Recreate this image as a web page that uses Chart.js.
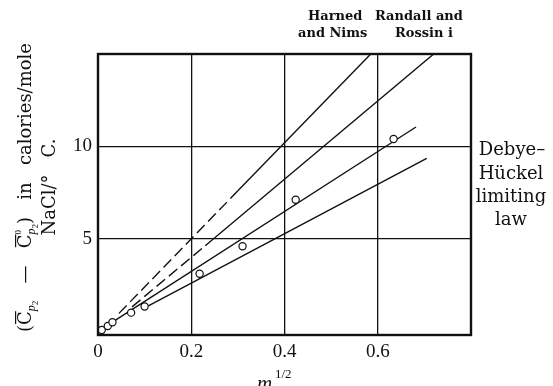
<!DOCTYPE html>
<html>
<head>
<meta charset="utf-8">
<script src="https://cdn.jsdelivr.net/npm/chart.js@4/dist/chart.umd.min.js"></script>
<style>
  html, body { margin: 0; padding: 0; background: #fff; }
  #wrap { width: 553px; height: 386px; position: relative; }
</style>
</head>
<body>
<div id="wrap"><canvas id="chart" width="553" height="386"></canvas></div>
<script>
// tick labels
const xTicks = [0, 0.2, 0.4, 0.6];
const yTicks = [5, 10];

// measured points (open circles)
const pointsX = [0.008, 0.021, 0.031, 0.071, 0.100, 0.218, 0.310, 0.424, 0.634];
const pointsY = [0.07, 0.29, 0.49, 1.01, 1.34, 3.11, 4.60, 7.12, 10.40];

// straight lines: first segment of the two upper ones is dashed
const harnedX = [0.045, 0.30, 0.585];
const harnedY = [0.97, 7.60, 15.0];
const randallX = [0.073, 0.23, 0.72];
const randallY = [1.32, 4.63, 15.0];
const fitX = [0.0, 0.682];
const fitY = [0.0, 11.05];
const dhllX = [0.108, 0.705];
const dhllY = [1.37, 9.35];

const SERIF = '"Liberation Serif", "DejaVu Serif", serif';
const WIDE = '"DejaVu Serif", serif';

function pairs(xs, ys) {
  return xs.map((x, i) => ({ x: x, y: ys[i] }));
}

function lineSet(xs, ys, dashFirst) {
  return {
    type: 'line',
    data: pairs(xs, ys),
    borderColor: '#111',
    borderWidth: 1.4,
    pointRadius: 0,
    fill: false,
    segment: dashFirst ? {
      borderDash: ctx => ctx.p0DataIndex === 0 ? [11, 5] : undefined,
    } : {},
  };
}

// text runs with sub/superscripts
function richWidth(ctx, parts) {
  let w = 0;
  parts.forEach(p => {
    ctx.font = p.font;
    if (!p.stack) w += ctx.measureText(p.t).width;
  });
  return w;
}

function drawRich(ctx, parts, x, y) {
  let cx = x;
  parts.forEach(p => {
    ctx.font = p.font;
    const pw = ctx.measureText(p.t).width;
    ctx.fillText(p.t, cx, y + (p.dy || 0));
    if (p.bar) ctx.fillRect(cx + 1, y - 16, pw - 1, 1.2);
    if (!p.stack) cx += pw;
  });
}

const annotations = {
  id: 'annotations',
  afterDraw(chart) {
    const ctx = chart.ctx;
    const a = chart.chartArea;
    ctx.save();
    // frame
    ctx.strokeStyle = '#111';
    ctx.lineWidth = 2.4;
    ctx.strokeRect(a.left, a.top, a.right - a.left, a.bottom - a.top);

    ctx.fillStyle = '#111';
    ctx.textBaseline = 'alphabetic';

    // top labels
    ctx.font = 'bold 13px ' + WIDE;
    ctx.textAlign = 'left';
    ctx.fillText('Harned', 308, 20);
    ctx.fillText('Randall and', 375, 20);
    ctx.fillText('and Nims', 298, 37);
    ctx.fillText('Rossin i', 395, 37);

    // right labels
    ctx.font = '18px ' + WIDE;
    ctx.textAlign = 'center';
    ctx.fillText('Debye\u2013', 512, 155);
    ctx.fillText('H\u00fcckel', 511, 179);
    ctx.fillText('limiting', 511, 202);
    ctx.fillText('law', 511, 225);

    // x axis title
    ctx.textAlign = 'left';
    ctx.font = 'italic 21px ' + SERIF;
    ctx.fillText('m', 257, 390);
    ctx.font = '13px ' + SERIF;
    ctx.fillText('1/2', 275, 378);

    // y axis title, rotated
    ctx.rotate(-Math.PI / 2);
    const big = '18px ' + WIDE;
    const sub = 'italic 12px ' + SERIF;
    const sub2 = '9px ' + SERIF;
    const groups = [
      [{ t: '(', font: big }, { t: 'C', font: big, bar: true }, { t: 'p', font: sub, dy: 4 }, { t: '2', font: sub2, dy: 7 }],
      [{ t: '\u2014', font: big }],
      [{ t: 'C', font: big, bar: true }, { t: '0', font: sub2, dy: -10, stack: true }, { t: 'p', font: sub, dy: 4 }, { t: '2', font: sub2, dy: 7 }, { t: ')', font: big }],
      [{ t: 'in', font: big }],
      [{ t: 'calories/mole', font: big }],
    ];
    const widths = groups.map(g => richWidth(ctx, g));
    const total = 289;
    const gap = (total - widths.reduce((s, v) => s + v, 0)) / (groups.length - 1);
    let pos = -332;
    groups.forEach((g, i) => {
      drawRich(ctx, g, pos, 31);
      pos += widths[i] + gap;
    });
    ctx.font = big;
    ctx.textAlign = 'center';
    ctx.fillText('NaCl/\u00b0', -205, 55);
    ctx.fillText('C.', -148, 55);
    ctx.restore();
  },
};

const chart = new Chart(document.getElementById('chart'), {
  type: 'scatter',
  data: {
    datasets: [
      {
        data: pairs(pointsX, pointsY),
        pointStyle: 'circle',
        pointRadius: 3.6,
        pointBorderWidth: 1.2,
        pointBackgroundColor: '#fff',
        pointBorderColor: '#111',
        showLine: false,
        order: 0,
      },
      lineSet(harnedX, harnedY, true),
      lineSet(randallX, randallY, true),
      lineSet(fitX, fitY, false),
      lineSet(dhllX, dhllY, false),
    ],
  },
  options: {
    responsive: false,
    animation: false,
    layout: { padding: { left: 0, right: 82, top: 54, bottom: 0 } },
    plugins: {
      legend: { display: false },
      tooltip: { enabled: false },
    },
    scales: {
      x: {
        type: 'linear',
        min: 0,
        max: 0.8,
        afterBuildTicks: scale => { scale.ticks = xTicks.map(v => ({ value: v })); },
        afterFit: scale => { scale.height = 51; },
        grid: { color: '#111', lineWidth: 1.3, drawTicks: false },
        border: { display: false },
        ticks: {
          color: '#111',
          padding: 6,
          maxRotation: 0,
          font: { family: SERIF, size: 19 },
          callback: v => v === 0 ? '0' : v.toFixed(1),
        },
      },
      y: {
        type: 'linear',
        min: -0.2,
        max: 15,
        afterBuildTicks: scale => { scale.ticks = yTicks.map(v => ({ value: v })); },
        afterFit: scale => { scale.width = 98; },
        grid: { color: '#111', lineWidth: 1.3, drawTicks: false },
        border: { display: false },
        ticks: {
          color: '#111',
          padding: 6,
          font: { family: SERIF, size: 19 },
        },
      },
    },
  },
  plugins: [annotations],
});
</script>
</body>
</html>
